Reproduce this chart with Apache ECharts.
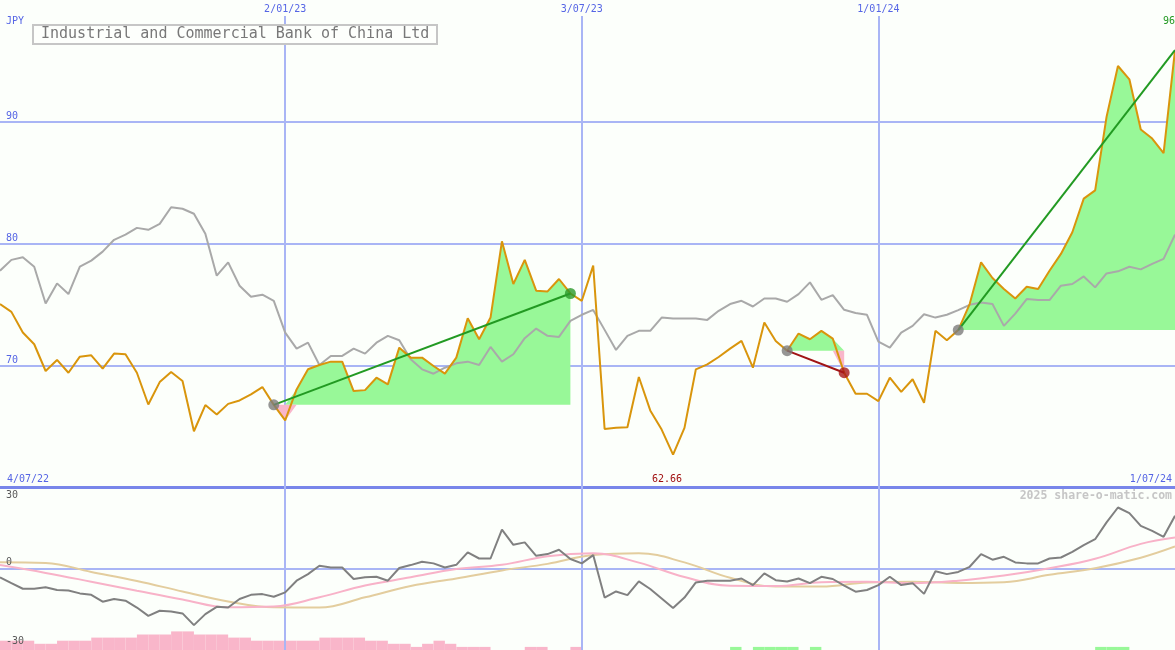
<!DOCTYPE html>
<html>
<head>
<meta charset="utf-8">
<script src="https://cdn.jsdelivr.net/npm/echarts@6/dist/echarts.min.js"></script>
<style>
html,body{margin:0;padding:0;background:#fcfffb;}
#chart{width:1175px;height:650px;}
</style>
</head>
<body>
<div id="chart"></div>
<script>
// ---------- data ----------
const firstWeek = '2022-07-11';
const weekCount = 104;
const lastWeek = '2024-07-01';

const price = [
  75.03, 74.39, 72.69, 71.73, 69.53, 70.44, 69.39, 70.71, 70.82, 69.72,
  70.96, 70.91, 69.39, 66.78, 68.62, 69.45, 68.71, 64.58, 66.73, 65.96,
  66.83, 67.11, 67.61, 68.21, 66.75, 65.47, 68.02, 69.67, 70.02, 70.30,
  70.30, 67.88, 67.96, 68.98, 68.43, 71.45, 70.63, 70.63, 69.94, 69.31,
  70.63, 73.87, 72.14, 73.92, 80.19, 76.68, 78.66, 76.13, 76.07, 77.09,
  75.90, 75.30, 78.19, 64.77, 64.86, 64.91, 69.04, 66.29, 64.72, 62.66,
  64.86, 69.67, 70.08, 70.68, 71.37, 72.00, 69.80, 73.51, 72.00, 71.20,
  72.61, 72.14, 72.83, 72.19, 69.39, 67.66, 67.66, 67.06, 68.98, 67.82,
  68.85, 66.92, 72.83, 72.06, 72.89, 75.03, 78.46, 77.17, 76.27, 75.49,
  76.45, 76.27, 77.77, 79.15, 80.93, 83.69, 84.37, 90.41, 94.59, 93.50,
  89.37, 88.63, 87.44, 95.90
];

const peer = [
  77.77, 78.66, 78.87, 78.10, 75.08, 76.73, 75.85, 78.10, 78.60, 79.34,
  80.31, 80.74, 81.29, 81.13, 81.62, 82.99, 82.86, 82.45, 80.80, 77.36,
  78.46, 76.54, 75.63, 75.80, 75.30, 72.69, 71.37, 71.86, 70.02, 70.77,
  70.77, 71.37, 70.96, 71.86, 72.42, 72.06, 70.49, 69.67, 69.31, 69.80,
  70.16, 70.30, 70.02, 71.51, 70.30, 70.91, 72.23, 73.02, 72.42, 72.33,
  73.65, 74.15, 74.55, 72.91, 71.26, 72.42, 72.83, 72.83, 73.92, 73.84,
  73.84, 73.84, 73.73, 74.48, 75.03, 75.30, 74.83, 75.49, 75.49, 75.22,
  75.85, 76.81, 75.38, 75.77, 74.56, 74.29, 74.15, 71.95, 71.45, 72.69,
  73.24, 74.20, 73.92, 74.15, 74.53, 74.97, 75.16, 75.03, 73.24, 74.25,
  75.44, 75.36, 75.36, 76.54, 76.68, 77.30, 76.40, 77.55, 77.72, 78.10,
  77.88, 78.33, 78.74, 80.74
];

const momentum = [
  -3.6, -6.0, -8.3, -8.3, -7.7, -8.8, -9.0, -10.2, -10.8, -13.6,
  -12.5, -13.2, -16.0, -19.4, -17.3, -17.6, -18.4, -23.2, -18.7, -15.7,
  -16.0, -12.5, -10.8, -10.5, -11.6, -9.8, -5.0, -2.3, 1.1, 0.4,
  0.4, -4.3, -3.6, -3.4, -5.0, 0.2, 1.4, 2.8, 2.1, 0.4,
  1.5, 6.6, 4.1, 4.1, 15.9, 9.7, 10.7, 5.2, 5.9, 7.7,
  3.9, 2.1, 5.5, -11.9, -9.4, -10.9, -5.3, -8.4, -12.3, -16.2,
  -11.9, -5.7, -5.0, -5.0, -5.0, -4.1, -6.8, -2.0, -4.8, -5.3,
  -4.1, -6.0, -3.4, -4.3, -7.0, -9.5, -8.8, -6.8, -3.4, -6.8,
  -6.0, -10.4, -1.1, -2.3, -1.4, 0.7, 5.9, 3.6, 4.8, 2.5,
  2.1, 2.1, 4.1, 4.5, 6.8, 9.6, 12.0, 18.9, 25.0, 22.7,
  17.5, 15.4, 13.0, 21.6
];

// moving averages read at every 4th week (and the last week)
const maWeeks = [0, 4, 8, 12, 16, 20, 24, 28, 32, 36, 40, 44, 48, 52, 56, 60, 64, 68, 72, 76, 80, 84, 88, 92, 96, 100, 103];
const maFast = [1.4, -1.8, -5.4, -9.1, -12.7, -15.9, -15.6, -11.8, -7.0, -3.6, -0.2, 1.5, 5.0, 6.2, 2.4, -3.5, -7.1, -7.2, -5.6, -5.4, -6.0, -5.0, -2.9, 0.1, 4.0, 10.1, 12.7];
const maSlow = [2.6, 2.3, -1.4, -5.1, -9.4, -13.5, -15.9, -16.0, -11.8, -7.2, -4.1, -0.8, 1.9, 5.5, 6.2, 2.5, -3.8, -7.4, -7.4, -5.7, -5.4, -5.9, -5.6, -2.6, 0.1, 4.4, 9.0];

// weekly signal strength (negative = pink, positive = green)
const signal = [
  -3, -3, -3, -2, -2, -3, -3, -3, -4, -4,
  -4, -4, -5, -5, -5, -6, -6, -5, -5, -5,
  -4, -4, -3, -3, -3, -3, -3, -3, -4, -4,
  -4, -4, -3, -3, -2, -2, -1, -2, -3, -2,
  -1, -1, -1, 0, 0, 0, -1, -1, 0, 0,
  -1, 0, 0, 0, 0, 0, 0, 0, 0, 0,
  0, 0, 0, 0, 1, 0, 1, 1, 1, 1,
  0, 1, 0, 0, 0, 0, 0, 0, 0, 0,
  0, 0, 0, 0, 0, 0, 0, 0, 0, 0,
  0, 0, 0, 0, 0, 0, 1, 1, 1, 0,
  0, 0, 0
];

// trades: [entry week, exit week]; last one is still open
const trades = [[24, 50], [69, 74], [84, 103]];
const openTrades = [false, false, true];

const priceTicks = [70, 80, 90];
const momentumTicks = [30, 0, -30];
const halfYearTicks = ['2023-01-02', '2023-07-03', '2024-01-01'];
const edgeLabels = ['4/07/22', '1/07/24'];
const currencyName = 'JPY';
const titleText = 'Industrial and Commercial Bank of China Ltd';
const creditText = '2025 share-o-matic.com';

// ---------- helpers ----------
const DAY = 86400000;
function ts(s) { const p = s.split('-').map(Number); return Date.UTC(p[0], p[1] - 1, p[2]); }
function fmtDate(s) {
  const d = new Date(ts(s));
  return d.getUTCDate() + '/' + String(d.getUTCMonth() + 1).padStart(2, '0') + '/' + String(d.getUTCFullYear()).slice(2);
}
const t0 = ts(firstWeek);
const t1 = ts(lastWeek);
const weeks = [];
for (let i = 0; i < weekCount; i++) weeks.push(t0 + i * 7 * DAY);

const MONO = 'DejaVu Sans Mono';
const BLUE_TEXT = '#5565e5';
const GRID_BLUE = '#a9b5f5';
const GREEN_FILL = '#98f898';
const PINK_FILL = '#f9b6ca';
const Y_MIN = 60, Y_MAX = 98.7;

const minIdx = price.indexOf(Math.min(...price));
const lastIdx = price.length - 1;

// ---------- series ----------
const series = [];

// trade fills
trades.forEach((tr, k) => {
  const a = tr[0], b = tr[1];
  const base = price[a];
  const up = [], down = [];
  for (let i = a; i <= b; i++) {
    up.push([weeks[i], Math.max(price[i], base)]);
    down.push([weeks[i], Math.min(price[i], base)]);
  }
  series.push({
    name: 'gain' + k, type: 'line', xAxisIndex: 0, yAxisIndex: 0, data: up,
    symbol: 'none', lineStyle: { width: 0, opacity: 0 },
    areaStyle: { color: GREEN_FILL, opacity: 1, origin: base }, z: 2, silent: true
  });
  series.push({
    name: 'loss' + k, type: 'line', xAxisIndex: 0, yAxisIndex: 0, data: down,
    symbol: 'none', lineStyle: { width: 0, opacity: 0 },
    areaStyle: { color: PINK_FILL, opacity: 1, origin: base }, z: 2, silent: true
  });
});

// gridlines for main panel
const mainMarkLines = priceTicks.map(v => ({ yAxis: v, label: { show: false } }))
  .concat(halfYearTicks.map(d => ({
    xAxis: ts(d),
    label: { show: true, formatter: fmtDate(d) }
  })));

series.push({
  name: 'peer', type: 'line', xAxisIndex: 0, yAxisIndex: 0,
  data: peer.map((v, i) => [weeks[i], v]),
  symbol: 'none', lineStyle: { color: '#a9a9a9', width: 2 }, z: 3,
  markLine: {
    z: 1, silent: true, symbol: ['none', 'none'], animation: false,
    lineStyle: { color: GRID_BLUE, width: 2, type: 'solid' },
    label: { show: false, position: 'end', distance: 2, color: BLUE_TEXT, fontSize: 10, fontFamily: MONO },
    emphasis: { disabled: true },
    data: mainMarkLines
  }
});

const edgeLabelStyle = { show: true, position: 'inside', color: BLUE_TEXT, fontSize: 10, fontFamily: MONO };
series.push({
  name: 'price', type: 'line', xAxisIndex: 0, yAxisIndex: 0,
  data: price.map((v, i) => [weeks[i], v]),
  symbol: 'none', lineStyle: { color: '#d9950c', width: 2 }, z: 4,
  markPoint: {
    silent: true, symbolSize: 0, animation: false,
    data: [
      {
        coord: [weeks[lastIdx], Y_MAX], value: price[lastIdx],
        label: { show: true, position: 'inside', formatter: p => String(Math.round(p.value)), color: '#229922', fontSize: 10, fontFamily: MONO, align: 'right', offset: [0, 5] }
      },
      {
        coord: [weeks[minIdx], Y_MIN], value: price[minIdx],
        label: { show: true, position: 'inside', formatter: p => p.value.toFixed(2), color: '#a01010', fontSize: 10, fontFamily: MONO, offset: [-6, -8] }
      },
      {
        coord: [t0, Y_MIN], value: 0,
        label: Object.assign({}, edgeLabelStyle, { formatter: edgeLabels[0], align: 'left', offset: [7, -8] })
      },
      {
        coord: [t1, Y_MIN], value: 0,
        label: Object.assign({}, edgeLabelStyle, { formatter: edgeLabels[1], align: 'right', offset: [-3, -8] })
      }
    ]
  }
});

// trade lines
trades.forEach((tr, k) => {
  const a = tr[0], b = tr[1];
  const win = price[b] >= price[a];
  series.push({
    name: 'trade' + k, type: 'line', xAxisIndex: 0, yAxisIndex: 0,
    data: [[weeks[a], price[a]], [weeks[b], price[b]]],
    symbol: 'none', lineStyle: { color: win ? '#229a22' : '#a01414', width: 2 }, z: 5, silent: true
  });
});

// entry / exit dots
const dots = [];
trades.forEach((tr, k) => {
  const a = tr[0], b = tr[1];
  dots.push({ value: [weeks[a], price[a]], itemStyle: { color: '#7c7c7c' } });
  if (!openTrades[k]) {
    const win = price[b] >= price[a];
    dots.push({ value: [weeks[b], price[b]], itemStyle: { color: win ? '#2a9a2a' : '#a81818' } });
  }
});
series.push({
  name: 'dots', type: 'scatter', xAxisIndex: 0, yAxisIndex: 0,
  data: dots, symbolSize: 11, z: 6, silent: true
});

// lower panel
const lowerMarkLines = halfYearTicks.map(d => ({ xAxis: ts(d) }));
series.push({
  name: 'maSlow', type: 'line', xAxisIndex: 1, yAxisIndex: 1,
  data: maWeeks.map((w, j) => [weeks[w], maSlow[j]]),
  symbol: 'none', smooth: 0.4, lineStyle: { color: '#e3cd9e', width: 2 }, z: 3,
  markLine: {
    z: 1, silent: true, symbol: ['none', 'none'], animation: false,
    lineStyle: { color: GRID_BLUE, width: 2, type: 'solid' },
    label: { show: false }, emphasis: { disabled: true },
    data: lowerMarkLines
  }
});
series.push({
  name: 'maFast', type: 'line', xAxisIndex: 1, yAxisIndex: 1,
  data: maWeeks.map((w, j) => [weeks[w], maFast[j]]),
  symbol: 'none', smooth: 0.4, lineStyle: { color: '#f8b2c8', width: 2 }, z: 3
});
series.push({
  name: 'momentum', type: 'line', xAxisIndex: 1, yAxisIndex: 1,
  data: momentum.map((v, i) => [weeks[i], v]),
  symbol: 'none', lineStyle: { color: '#808080', width: 2 }, z: 4
});

// signal bars
series.push({
  name: 'sigNeg', type: 'bar', xAxisIndex: 2, yAxisIndex: 2, stack: 'sig',
  data: signal.map(v => v < 0 ? -v : 0), barCategoryGap: 0,
  itemStyle: { color: PINK_FILL }, silent: true, z: 0
});
series.push({
  name: 'sigPos', type: 'bar', xAxisIndex: 2, yAxisIndex: 2, stack: 'sig',
  data: signal.map(v => v > 0 ? v : 0), barCategoryGap: 0,
  itemStyle: { color: GREEN_FILL }, silent: true, z: 0
});

const option = {
  animation: false,
  backgroundColor: '#fcfffb',
  title: [
    {
      text: titleText, left: 33, top: 25, padding: [2, 8, 2, 8],
      borderColor: '#c6c6c6', borderWidth: 2, backgroundColor: '#fdfffc',
      textStyle: { fontFamily: MONO, fontSize: 15, color: '#787878', fontWeight: 'normal' }
    },
    {
      text: creditText, right: 3, top: 490, padding: 0,
      textStyle: { fontFamily: MONO, fontSize: 11.5, color: '#c6c6c6', fontWeight: 'bold' }
    }
  ],
  grid: [
    { left: 0, right: 0, top: 16, bottom: 163 },
    { left: 0, right: 0, top: 487, bottom: 0 },
    { left: 0, right: 0, bottom: 0, height: 31 }
  ],
  xAxis: [
    {
      gridIndex: 0, type: 'time', min: t0, max: t1,
      axisLine: { show: true, onZero: false, lineStyle: { color: '#7886ea', width: 3 } },
      axisTick: { show: false }, splitLine: { show: false }, axisLabel: { show: false }
    },
    {
      gridIndex: 1, type: 'time', min: t0, max: t1,
      axisLine: { show: true, onZero: true, lineStyle: { color: GRID_BLUE, width: 2 } },
      axisTick: { show: false }, splitLine: { show: false }, axisLabel: { show: false }
    },
    {
      gridIndex: 2, type: 'category', data: weeks.slice(0, signal.length), boundaryGap: true,
      axisLine: { show: false }, axisTick: { show: false }, splitLine: { show: false }, axisLabel: { show: false }
    }
  ],
  yAxis: [
    {
      gridIndex: 0, type: 'value', min: Y_MIN, max: Y_MAX,
      name: currencyName, nameLocation: 'end', nameGap: -5,
      nameTextStyle: { align: 'left', verticalAlign: 'middle', padding: [0, 0, 0, 6], color: BLUE_TEXT, fontSize: 10, fontFamily: MONO },
      axisLine: { show: false }, axisTick: { show: false }, splitLine: { show: false },
      axisLabel: {
        inside: true, margin: 6, customValues: priceTicks, verticalAlign: 'bottom',
        color: BLUE_TEXT, fontSize: 10, fontFamily: MONO
      }
    },
    {
      gridIndex: 1, type: 'value', min: -33.4, max: 33.4, z: 10,
      axisLine: { show: false }, axisTick: { show: false }, splitLine: { show: false },
      axisLabel: {
        inside: true, margin: 6, customValues: momentumTicks, verticalAlign: 'middle',
        color: '#5a5a5a', fontSize: 10, fontFamily: MONO,
        formatter: v => (v === 0 ? '{z|0}' : '{n|' + v + '}'),
        rich: { z: { padding: [0, 0, 13, 0], color: '#5a5a5a', fontSize: 10, fontFamily: MONO }, n: { color: '#5a5a5a', fontSize: 10, fontFamily: MONO } }
      }
    },
    {
      gridIndex: 2, type: 'value', min: 0, max: 10, show: false
    }
  ],
  series: series
};

const chart = echarts.init(document.getElementById('chart'), null, { renderer: 'canvas' });
chart.setOption(option);
</script>
</body>
</html>
